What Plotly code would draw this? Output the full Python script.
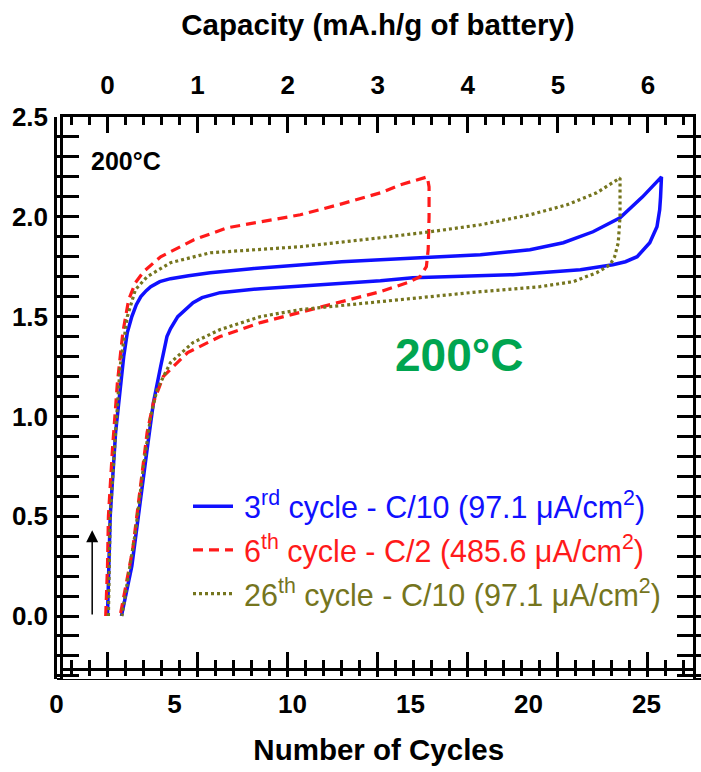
import plotly.graph_objects as go

# Galvanostatic charge/discharge loops at 200 °C: voltage (V) vs capacity (mA.h/g)
cap_3rd = [0.0, 0.015, 0.03, 0.09, 0.18, 0.22, 0.27, 0.32, 0.37, 0.43, 0.48, 0.58, 0.70, 0.90,
           1.14, 1.60, 2.14, 2.60, 3.03, 3.56, 4.14, 4.69, 5.06, 5.39, 5.69, 5.94, 6.15,
           6.14, 6.13, 6.10, 6.02, 5.88, 5.75, 5.61, 5.25, 4.50, 3.39, 3.03, 2.60, 2.14,
           1.70, 1.25, 1.05, 0.95, 0.85, 0.78, 0.70, 0.66, 0.59, 0.51, 0.44, 0.37, 0.27, 0.155]
volt_3rd = [0.0, 0.25, 0.50, 0.92, 1.30, 1.42, 1.50, 1.56, 1.60, 1.63, 1.65, 1.675, 1.69, 1.705,
            1.72, 1.74, 1.76, 1.775, 1.785, 1.795, 1.81, 1.835, 1.87, 1.925, 1.995, 2.10, 2.20,
            2.10, 2.035, 1.95, 1.87, 1.80, 1.775, 1.76, 1.735, 1.71, 1.695, 1.68, 1.668, 1.655,
            1.64, 1.62, 1.595, 1.57, 1.53, 1.50, 1.44, 1.40, 1.25, 1.07, 0.835, 0.585, 0.25, 0.0]

cap_6th = [-0.02, 0.0, 0.01, 0.055, 0.11, 0.17, 0.235, 0.31, 0.40, 0.59, 0.96, 1.33, 1.70,
           2.14, 2.60, 3.03, 3.25, 3.47, 3.55, 3.57, 3.57, 3.56, 3.54, 3.47, 3.33, 3.03, 2.69,
           2.14, 1.70, 1.25, 0.89, 0.62, 0.51, 0.44, 0.37, 0.28, 0.14]
volt_6th = [0.0, 0.25, 0.50, 0.835, 1.17, 1.42, 1.585, 1.67, 1.725, 1.80, 1.885, 1.945, 1.975,
            2.01, 2.065, 2.12, 2.16, 2.19, 2.20, 2.15, 2.00, 1.835, 1.75, 1.70, 1.67, 1.625, 1.585,
            1.52, 1.47, 1.40, 1.32, 1.20, 1.07, 0.92, 0.67, 0.335, 0.0]

cap_26th = [0.01, 0.02, 0.03, 0.09, 0.14, 0.22, 0.31, 0.44, 0.70, 1.14, 2.14, 3.03, 3.58, 4.14,
            4.69, 5.10, 5.43, 5.69, 5.69, 5.67, 5.63, 5.58, 5.43, 5.17, 4.80, 4.14, 3.03, 2.14,
            1.70, 1.25, 0.95, 0.70, 0.55, 0.48, 0.40, 0.31, 0.16]
volt_26th = [0.0, 0.25, 0.50, 0.92, 1.25, 1.50, 1.635, 1.70, 1.77, 1.82, 1.85, 1.895, 1.925, 1.96,
             2.01, 2.06, 2.12, 2.195, 2.00, 1.87, 1.80, 1.76, 1.72, 1.675, 1.65, 1.625, 1.575,
             1.535, 1.50, 1.435, 1.37, 1.27, 1.135, 1.00, 0.75, 0.42, 0.0]

series_names = ["3<sup>rd</sup> cycle - C/10 (97.1 \u03bcA/cm<sup>2</sup>)",
                "6<sup>th</sup> cycle - C/2 (485.6 \u03bcA/cm<sup>2</sup>)",
                "26<sup>th</sup> cycle - C/10 (97.1 \u03bcA/cm<sup>2</sup>)"]
series_colors = ["#1010ff", "#ff1a1a", "#75751e"]
series_dash = ["solid", "10px,6px", "3px,3px"]
series_width = [3.5, 3.2, 3.2]

cycle_ticks = [0, 5, 10, 15, 20, 25]
cap_ticks = [0, 1, 2, 3, 4, 5, 6]
volt_ticks = [0.0, 0.5, 1.0, 1.5, 2.0, 2.5]

W, H = 701, 772
sans = "Liberation Sans, Arial, Helvetica, sans-serif"

# frame geometry in pixels
fx0, fx1 = 63, 693
fy_top, fy_bot = 117, 679
inner_line = 669
cyc_x0 = 56.5

fig = go.Figure()

for cap, volt, name, col, dash, lw in zip(
        [cap_3rd, cap_6th, cap_26th], [volt_3rd, volt_6th, volt_26th],
        series_names, series_colors, series_dash, series_width):
    fig.add_trace(go.Scatter(
        x=cap, y=volt, mode="lines", xaxis="x2", yaxis="y",
        name=f'<span style="color:{col}">\u2009{name}</span>',
        legendgroup=name,
        line=dict(color=col, width=lw, dash=dash)))

# empty traces so the extra axes get drawn
for ax in ["x", "x3", "x4"]:
    fig.add_trace(go.Scatter(x=[None], y=[None], xaxis=ax, yaxis="y",
                             showlegend=False, hoverinfo="skip"))

tick_font = dict(family=sans, size=26, color="black", weight="bold")
title_font = dict(family=sans, size=29.5, color="black", weight="bold")

fig.update_layout(
    width=W, height=H, autosize=False,
    margin=dict(l=0, r=0, t=0, b=0),
    paper_bgcolor="white", plot_bgcolor="white",
    showlegend=True,
    legend=dict(x=188 / W, y=1 - 480 / H, xanchor="left", yanchor="top",
                bgcolor="rgba(0,0,0,0)", font=dict(family=sans, size=30.5),
                tracegroupgap=1, itemwidth=40),
    # Number of Cycles axis (bottom line)
    xaxis=dict(domain=[cyc_x0 / W, 1.0], anchor="free", position=1 - fy_bot / H,
               range=[0, (W - cyc_x0) / 23.6], showline=True, linecolor="black", linewidth=1.8,
               showgrid=False, zeroline=False, ticks="", tickvals=cycle_ticks,
               tickfont=tick_font, ticklabelstandoff=2, automargin=False,
               title=dict(text="Number of Cycles", standoff=20, font=title_font)),
    # Capacity axis (top)
    xaxis2=dict(domain=[fx0 / W, fx1 / W], anchor="y", side="top",
                range=[-0.494, 6.5], showline=True, linecolor="black", linewidth=2.5,
                showgrid=False, zeroline=False, ticks="inside", ticklen=16, tickwidth=2.5,
                tickcolor="black", tickvals=cap_ticks, tickfont=tick_font,
                ticklabelstandoff=10, automargin=False,
                minor=dict(dtick=0.2, tick0=0, ticks="inside", ticklen=8, tickwidth=2.5,
                           tickcolor="black", showgrid=False),
                title=dict(text="Capacity (mA.h/g of battery)", standoff=26, font=title_font)),
    # inner bottom line carrying capacity ticks on both sides
    xaxis3=dict(domain=[fx0 / W, fx1 / W], anchor="free", overlaying="x2",
                position=1 - inner_line / H, side="bottom",
                range=[-0.494, 6.5], showline=True, linecolor="black", linewidth=2.5,
                showgrid=False, zeroline=False, ticks="inside", ticklen=16, tickwidth=2.5,
                tickcolor="black", tickvals=cap_ticks, showticklabels=False,
                minor=dict(dtick=0.2, tick0=0, ticks="inside", ticklen=8, tickwidth=2.5,
                           tickcolor="black", showgrid=False)),
    xaxis4=dict(domain=[fx0 / W, fx1 / W], anchor="free", overlaying="x2",
                position=1 - inner_line / H, side="bottom",
                range=[-0.494, 6.5], showline=False,
                showgrid=False, zeroline=False, ticks="outside", ticklen=7, tickwidth=2.5,
                tickcolor="black", tickvals=cap_ticks, showticklabels=False,
                minor=dict(dtick=0.2, tick0=0, ticks="outside", ticklen=6, tickwidth=2.5,
                           tickcolor="black", showgrid=False)),
    yaxis=dict(domain=[1 - fy_bot / H, 1 - fy_top / H], anchor="x2",
               range=[-(fy_bot - 616) / 199.6, 2.5], showline=True, linecolor="black",
               linewidth=2.5, mirror="allticks", showgrid=False, zeroline=False,
               ticks="inside", ticklen=16, tickwidth=2.5, tickcolor="black",
               tickvals=volt_ticks, ticktext=[f"{v:.1f}" for v in volt_ticks],
               tickfont=tick_font, ticklabelstandoff=7, automargin=False,
               minor=dict(dtick=0.1, tick0=0, ticks="inside", ticklen=8, tickwidth=2.5,
                          tickcolor="black", showgrid=False)),
)

# labels and the direction arrow
fig.add_annotation(x=0.2, y=2.28, xref="x2", yref="y", text="<b>200°C</b>",
                   showarrow=False, font=dict(family=sans, size=25, color="black"))
fig.add_annotation(x=3.90, y=1.31, xref="x2", yref="y", text="<b>200°C</b>",
                   showarrow=False, font=dict(family=sans, size=46, color="#00a550"))
fig.add_annotation(x=-0.17, y=0.43, ax=-0.17, ay=0.0, xref="x2", yref="y",
                   axref="x2", ayref="y", text="", showarrow=True, arrowhead=2,
                   arrowsize=1.6, arrowwidth=1.5, arrowcolor="black")

fig.write_html("out.html")
